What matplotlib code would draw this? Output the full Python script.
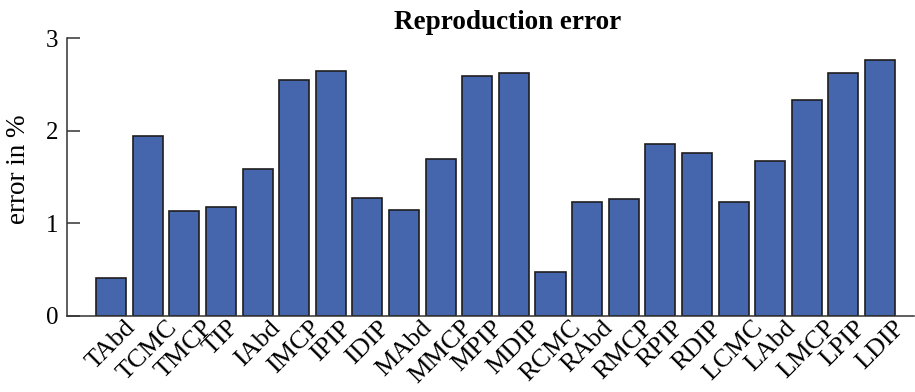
import numpy as np
import matplotlib.pyplot as plt

plt.rcParams['font.family'] = ['Liberation Serif', 'DejaVu Serif']

# joints and the reproduction error for each of them (%)
joints = ['TAbd', 'TCMC', 'TMCP', 'TIP', 'IAbd', 'IMCP', 'IPIP', 'IDIP',
          'MAbd', 'MMCP', 'MPIP', 'MDIP', 'RCMC', 'RAbd', 'RMCP', 'RPIP',
          'RDIP', 'LCMC', 'LAbd', 'LMCP', 'LPIP', 'LDIP']
error = [0.41, 1.95, 1.13, 1.18, 1.59, 2.55, 2.65, 1.27,
         1.15, 1.70, 2.59, 2.63, 0.47, 1.23, 1.26, 1.86,
         1.76, 1.23, 1.68, 2.33, 2.63, 2.77]

fig = plt.figure(figsize=(9.15, 3.92), dpi=100)
ax = fig.add_axes([0.073, 0.194, 0.926, 0.708])

x = np.arange(len(joints))
ax.bar(x, error, width=0.82, color='#4565ad', edgecolor='#1e1e1e',
       linewidth=1.2, zorder=2)

ax.set_xlim(-1.21, 21.93)
ax.set_ylim(0, 3)
ax.set_yticks([0, 1, 2, 3])
ax.set_xticks(x)

for s in ['top', 'right']:
    ax.spines[s].set_visible(False)
for s in ['left', 'bottom']:
    ax.spines[s].set_color('#333333')
    ax.spines[s].set_linewidth(1.1)

ax.tick_params(direction='in', length=9, width=1.1, color='#333333')
ax.tick_params(axis='y', labelsize=18, pad=6)
ax.tick_params(axis='x', labelsize=18.8, pad=0.5)
ax.set_xticklabels(joints, rotation=45, ha='center')
for t in ax.get_xticklines():
    t.set_zorder(3)

ax.set_ylabel('error in %', fontsize=19.5)
ax.yaxis.set_label_coords(-0.042, 0.53)
ax.set_title('Reproduction error', fontsize=19.5, fontweight='bold',
             x=0.52, pad=7)

fig.savefig('out.png', dpi=100)
